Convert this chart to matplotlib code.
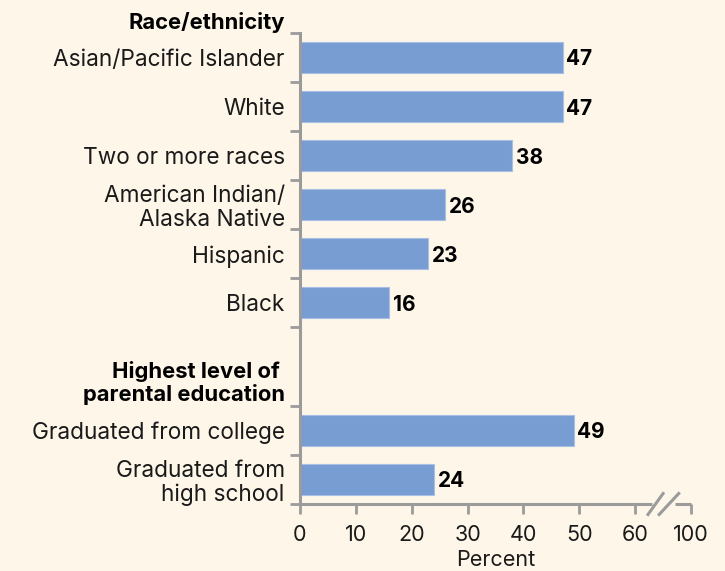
import matplotlib
matplotlib.use("Agg")
import matplotlib.pyplot as plt
import numpy as np

# Data
race_labels = ['Asian/Pacific Islander', 'White', 'Two or more races',
               'American Indian/\nAlaska Native', 'Hispanic', 'Black']
race_values = [47, 47, 38, 26, 23, 16]
edu_labels = ['Graduated from college', 'Graduated from\nhigh school']
edu_values = [49, 24]
xtick_values = [0, 10, 20, 30, 40, 50, 60, 70]
xtick_labels = ['0', '10', '20', '30', '40', '50', '60', '100']

BG = '#fdf6e9'
BAR = '#789dd3'
AXIS = '#9b9b9b'
FONT = 'Inter'

plt.rcParams['font.family'] = FONT

fig = plt.figure(figsize=(7.25, 5.71), dpi=100, facecolor=BG)
ax = fig.add_axes([300 / 725, 1 - 504 / 571, 391 / 725, 471 / 571])
ax.set_facecolor(BG)

gap = 1.6
race_pos = np.arange(len(race_labels))
edu_pos = len(race_labels) + gap + np.arange(len(edu_labels))
positions = np.concatenate([race_pos, edu_pos])
labels = race_labels + edu_labels
values = race_values + edu_values

ax.barh(positions, values, height=0.63, color=BAR, edgecolor='#a9c0e4', linewidth=0.8)
for y, v in zip(positions, values):
    ax.text(v + 0.6, y + 0.04, f'{v}', ha='left', va='center', fontsize=15,
            fontweight='bold', color='black')

ax.set_xlim(0, 70)
ax.set_ylim(edu_pos[-1] + 0.5, -0.5)

# category labels
ax.set_yticks(positions)
ax.set_yticklabels(labels, fontsize=16.3, color='#1a1a1a', ha='right',
                   linespacing=1.1)
ax.tick_params(axis='y', length=0, pad=11)
# boundary ticks
bounds = list(race_pos - 0.5) + [race_pos[-1] + 0.5] + list(edu_pos - 0.5) + [edu_pos[-1] + 0.5]
ax.set_yticks(bounds, minor=True)
ax.tick_params(axis='y', which='minor', length=7, width=2, color=AXIS, direction='out')

ax.set_xticks(xtick_values)
ax.set_xticklabels(xtick_labels, fontsize=15.5, color='#1a1a1a')
ax.tick_params(axis='x', length=7, width=2, color=AXIS, direction='out', pad=8)
ax.set_xlabel('Percent', fontsize=15.5, color='#1a1a1a', labelpad=4)

for side in ['top', 'right', 'bottom']:
    ax.spines[side].set_visible(False)
ax.spines['left'].set_color(AXIS)
ax.spines['left'].set_linewidth(2.2)

# bottom axis with break
tr = ax.get_xaxis_transform()
ax.plot([0, 63], [0, 0], color=AXIS, lw=2.2, transform=tr, clip_on=False,
        solid_capstyle='butt')
ax.plot([67.1, 70], [0, 0], color=AXIS, lw=2.2, transform=tr, clip_on=False,
        solid_capstyle='butt')
dy = 10.5 / 471
ax.plot([62.3, 65.0], [-dy, dy], color=AXIS, lw=2.2, transform=tr, clip_on=False)
ax.plot([64.3, 67.8], [-dy, dy], color=AXIS, lw=2.2, transform=tr, clip_on=False)

# group headers
hdr_tr = matplotlib.transforms.blended_transform_factory(ax.transAxes, ax.transData)
ax.text(-15 / 391, -0.71, 'Race/ethnicity', transform=hdr_tr,
        ha='right', va='center', fontsize=15.8, fontweight='bold', color='black')
ax.text(-15 / 391, len(race_labels) + 0.63, 'Highest level of \nparental education',
        transform=hdr_tr, ha='right', va='center', fontsize=15.8, fontweight='bold',
        color='black', multialignment='right', linespacing=1.1)

fig.savefig('out.png', dpi=100, facecolor=BG)
